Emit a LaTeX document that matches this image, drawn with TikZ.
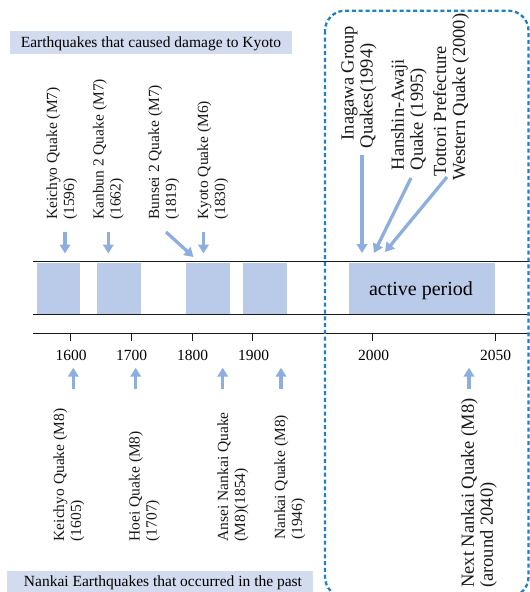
\documentclass[tikz,border=0pt]{standalone}
\usepackage{fontspec}
\setmainfont{Liberation Serif}
\usetikzlibrary{arrows.meta}
\definecolor{bandblue}{HTML}{B9CBE8}
\definecolor{hdrblue}{HTML}{D3DCEF}
\definecolor{arrowblue}{HTML}{8DAEDF}
\definecolor{dashblue}{HTML}{1D80C9}
\tikzset{
  lbl/.style={rotate=90, anchor=west, align=left, inner sep=0pt, text=black!90,
    font=\fontsize{15.5}{17}\selectfont},
  biglbl/.style={rotate=90, anchor=west, align=left, inner sep=0pt, text=black!90,
    font=\fontsize{18.5}{19}\selectfont},
  yearlbl/.style={inner sep=0pt, font=\fontsize{15.5}{17}\selectfont},
  hdrtext/.style={anchor=base, inner sep=0pt, font=\fontsize{15.5}{17}\selectfont},
  qarrow/.style={draw=arrowblue, line width=3.3pt, -{Triangle[width=10.5pt,length=9pt]}},
  bandbox/.style={fill=bandblue, draw=none},
  axisline/.style={draw=black!90, line width=0.95pt},
  tickline/.style={draw=black!90, line width=0.8pt},
  dashbox/.style={draw=dashblue, line width=2.3pt, dash pattern=on 4pt off 2.8pt, rounded corners=20pt}
}
\begin{document}
\begin{tikzpicture}[x=1pt,y=-1pt]
\useasboundingbox (0,0) rectangle (530,592);
\clip (0,0) rectangle (530,592);

% header boxes
\fill[hdrblue] (10,30.5) rectangle (292,53.5);
\node[hdrtext] (hdrtop) at (151,47.3) {Earthquakes that caused damage to Kyoto};
\fill[hdrblue] (7,571) rectangle (313,595);
\node[hdrtext] (hdrbot) at (163,586.5) {Nankai Earthquakes that occurred in the past};

% band rectangles
\fill[bandblue] (36.5,262.5) rectangle (80,314);
\fill[bandblue] (97,262.5) rectangle (141,314);
\fill[bandblue] (186,262.5) rectangle (230,314);
\fill[bandblue] (243,262.5) rectangle (287,314);
\fill[bandblue] (349,262.5) rectangle (495,314);
\node[anchor=base, inner sep=0pt, font=\fontsize{20}{22}\selectfont] (active) at (421,295) {active period};

% lines
\draw[axisline] (33,261.7) -- (531,261.7);
\draw[axisline] (33,314) -- (531,314);
\draw[axisline] (33,333.3) -- (531,333.3);

% ticks and year labels
\foreach \xx/\yy in {70.3/1600,131/1700,192/1800,252.8/1900,372.8/2000,495/2050}{
  \draw[tickline] (\xx,333.3) -- (\xx,340.5);
  \node[yearlbl] (y\yy) at (\xx+0.7,355) {\yy};
}

% upper labels
\node[lbl] (keichyo7) at (62,220) {Keichyo Quake (M7)\\(1596)};
\node[lbl] (kanbun) at (108.3,220) {Kanbun 2 Quake (M7)\\(1662)};
\node[lbl] (bunsei) at (164,220) {Bunsei 2 Quake (M7)\\(1819)};
\node[lbl] (kyoto) at (213,220) {Kyoto Quake (M6)\\(1830)};

\node[biglbl] (inagawa) at (359,148.5) {\hspace*{8pt}Inagawa Group\\Quakes(1994)};
\node[biglbl] (hanshin) at (409,170.5) {Hanshin-Awaji\\Quake (1995)};
\node[biglbl] (tottori) at (451,181) {\hspace*{4pt}Tottori Prefecture\\Western Quake (2000)};

% lower labels
\node[lbl] (keichyo8) at (69,541.5) {Keichyo Quake (M8)\\(1605)};
\node[lbl] (hoei) at (144.5,541.5) {Hoei Quake (M8)\\(1707)};
\node[lbl] (ansei) at (233,541.5) {Ansei Nankai Quake\\(M8)(1854)};
\node[lbl] (nankai) at (290,540) {Nankai Quake (M8)\\(1946)};
\node[biglbl] (next) at (479,588) {Next Nankai Quake (M8)\\(around 2040)};

% arrow coordinates
\coordinate (u1s) at (65,231.5);   \coordinate (u1e) at (65,253.5);
\coordinate (u2s) at (108.3,231.5);\coordinate (u2e) at (108.3,253.5);
\coordinate (u3s) at (166,232);    \coordinate (u3e) at (193.5,257);
\coordinate (u4s) at (203.5,231.5);\coordinate (u4e) at (203.5,253.5);
\coordinate (r1s) at (362,155);    \coordinate (r1e) at (362,253);
\coordinate (r2s) at (411,178);    \coordinate (r2e) at (374,253);
\coordinate (r3s) at (447,177);    \coordinate (r3e) at (385,252);
\coordinate (l1s) at (73.3,389.3); \coordinate (l1e) at (73.3,367.7);
\coordinate (l2s) at (135.7,389.3);\coordinate (l2e) at (135.7,367.7);
\coordinate (l3s) at (222.7,389.3);\coordinate (l3e) at (222.7,367.7);
\coordinate (l4s) at (281,389.3);  \coordinate (l4e) at (281,367.7);
\coordinate (l5s) at (469,389.3);  \coordinate (l5e) at (469,367.7);

\foreach \a in {u1,u2,u3,u4,r1,r2,r3,l1,l2,l3,l4,l5}{
  \draw[qarrow] (\a s) -- (\a e);
}

% dashed future box
\draw[dashbox] (325,10.7) rectangle (528.5,597);
\end{tikzpicture}
\end{document}
